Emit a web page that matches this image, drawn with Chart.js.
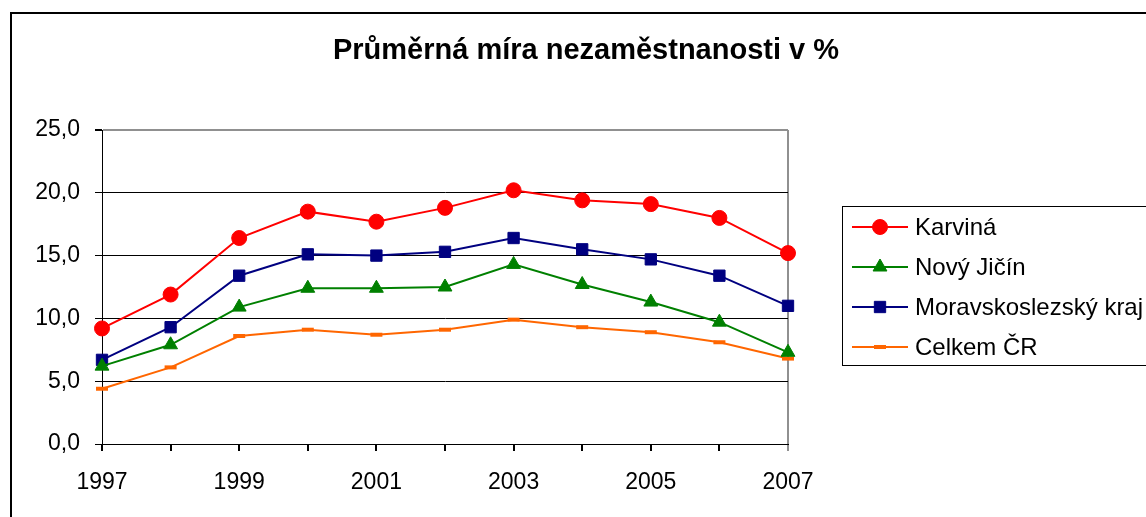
<!DOCTYPE html>
<html>
<head>
<meta charset="utf-8">
<script src="https://cdn.jsdelivr.net/npm/chart.js@4/dist/chart.umd.min.js"></script>
<style>
  body { margin: 0; background: #fff; }
</style>
</head>
<body>
<canvas id="graf" width="1146" height="517"></canvas>
<script>
// hodnoty
const roky = ['1997', '1998', '1999', '2000', '2001', '2002', '2003', '2004', '2005', '2006', '2007'];
const karvina = [9.2, 11.9, 16.4, 18.5, 17.7, 18.8, 20.2, 19.4, 19.1, 18.0, 15.2];
const novyJicin = [6.2, 7.9, 10.9, 12.4, 12.4, 12.5, 14.3, 12.7, 11.3, 9.7, 7.3];
const moravskoslezsky = [6.7, 9.3, 13.4, 15.1, 15.0, 15.3, 16.4, 15.5, 14.7, 13.4, 11.0];
const celkemCR = [4.4, 6.1, 8.6, 9.1, 8.7, 9.1, 9.9, 9.3, 8.9, 8.1, 6.8];

const pismo = "'Liberation Sans', Arial, sans-serif";

// nadpis, legenda a rámeček kreslíme sami
const dekorace = {
    id: 'dekorace',
    afterDraw(chart) {
        const ctx = chart.ctx;
        ctx.save();

        // vnější rámeček
        ctx.strokeStyle = '#000';
        ctx.lineWidth = 2;
        ctx.strokeRect(11, 13, 1200, 600);

        // nadpis
        ctx.fillStyle = '#000';
        ctx.font = 'bold 29px ' + pismo;
        ctx.textAlign = 'center';
        ctx.textBaseline = 'middle';
        ctx.fillText('Průměrná míra nezaměstnanosti v %', 586, 51);

        // legenda
        ctx.lineWidth = 1;
        ctx.strokeRect(842.5, 206.5, 400, 159);
        ctx.font = '24px ' + pismo;
        ctx.textAlign = 'left';
        chart.data.datasets.forEach((ds, i) => {
            const y = 227 + i * 40;
            ctx.strokeStyle = ds.borderColor;
            ctx.lineWidth = 2;
            ctx.beginPath();
            ctx.moveTo(852, y);
            ctx.lineTo(908, y);
            ctx.stroke();
            ctx.fillStyle = ds.backgroundColor;
            ctx.lineWidth = ds.pointBorderWidth;
            Chart.helpers.drawPoint(ctx, {
                pointStyle: ds.pointStyle,
                radius: ds.pointRadius,
                rotation: 0,
                borderWidth: ds.pointBorderWidth
            }, 880, y);
            ctx.fillStyle = '#000';
            ctx.fillText(ds.label, 915, y + 1);
        });

        ctx.restore();
    }
};

new Chart(document.getElementById('graf'), {
    type: 'line',
    data: {
        labels: roky,
        datasets: [
            {
                label: 'Karviná',
                data: karvina,
                borderColor: '#ff0000',
                backgroundColor: '#ff0000',
                borderWidth: 2,
                pointStyle: 'circle',
                pointRadius: 7.5,
                pointBorderWidth: 1
            },
            {
                label: 'Nový Jičín',
                data: novyJicin,
                borderColor: '#008000',
                backgroundColor: '#008000',
                borderWidth: 2,
                pointStyle: 'triangle',
                pointRadius: 8,
                pointBorderWidth: 1
            },
            {
                label: 'Moravskoslezský kraj',
                data: moravskoslezsky,
                borderColor: '#000080',
                backgroundColor: '#000080',
                borderWidth: 2,
                pointStyle: 'rect',
                pointRadius: 8,
                pointBorderWidth: 1
            },
            {
                label: 'Celkem ČR',
                data: celkemCR,
                borderColor: '#ff6600',
                backgroundColor: '#ff6600',
                borderWidth: 2,
                pointStyle: 'line',
                pointRadius: 6,
                pointBorderWidth: 4
            }
        ]
    },
    options: {
        responsive: false,
        animation: false,
        layout: {
            padding: { left: 10, top: 130, right: 358, bottom: 0 }
        },
        plugins: {
            legend: { display: false },
            title: { display: false },
            tooltip: { enabled: false }
        },
        scales: {
            x: {
                offset: false,
                afterFit(scale) { scale.height = 73; },
                grid: {
                    drawOnChartArea: true,
                    color: (c) => c.index === roky.length - 1 ? '#909090' : 'rgba(0,0,0,0)',
                    tickColor: (c) => c.index === roky.length - 1 ? '#909090' : '#000',
                    tickLength: 7,
                    lineWidth: 2
                },
                border: { color: '#000', width: 1 },
                ticks: {
                    autoSkip: false,
                    maxRotation: 0,
                    padding: 18,
                    color: '#000',
                    font: { family: pismo, size: 23 },
                    callback: (v, i) => i % 2 === 0 ? roky[i] : ''
                }
            },
            y: {
                min: 0,
                max: 25,
                afterFit(scale) { scale.width = 92; },
                grid: {
                    color: (c) => c.tick && c.tick.value === 25 ? '#909090' : '#000',
                    lineWidth: (c) => c.tick && c.tick.value === 25 ? 2 : 1,
                    tickColor: '#000',
                    tickLength: 7
                },
                border: { color: '#000', width: 1 },
                ticks: {
                    stepSize: 5,
                    padding: 15,
                    color: '#000',
                    font: { family: pismo, size: 23 },
                    callback: (v) => v.toFixed(1).replace('.', ',')
                }
            }
        }
    },
    plugins: [dekorace]
});
</script>
</body>
</html>
